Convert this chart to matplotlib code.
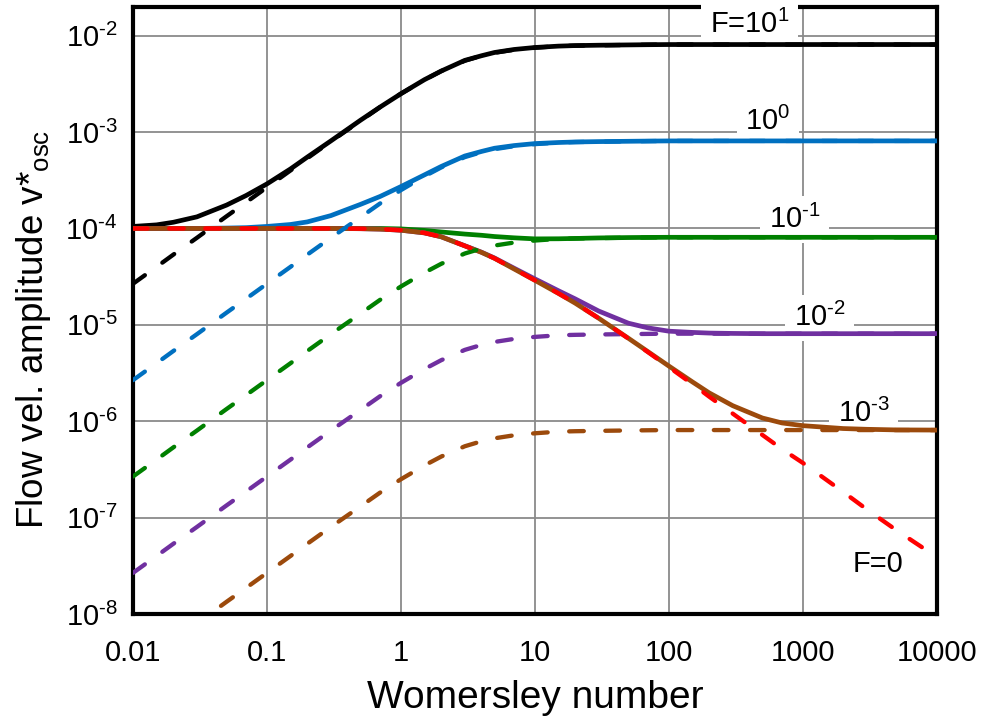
import matplotlib
matplotlib.use('Agg')
from matplotlib import pyplot as plt
from matplotlib.ticker import FuncFormatter

plt.rcParams['font.family'] = ['Liberation Sans', 'DejaVu Sans']
plt.rcParams['mathtext.fontset'] = 'custom'
plt.rcParams['mathtext.rm'] = 'Liberation Sans'
plt.rcParams['mathtext.it'] = 'Liberation Sans:italic'
plt.rcParams['axes.unicode_minus'] = False

# Womersley number samples
wo = [0.01, 0.015, 0.02, 0.03, 0.05, 0.07, 0.1, 0.15, 0.2, 0.3,
      0.5, 0.7, 1, 1.5, 2, 3, 4, 5, 7, 10,
      15, 20, 30, 50, 70, 100, 150, 200, 300, 500,
      700, 1000, 2000, 3000, 5000, 10000]

# F = 0 (red dashed)
v_f0 = [1e-4, 1e-4, 1e-4, 1e-4, 1e-4, 1e-4, 1e-4, 1e-4, 1e-4, 1e-4,
        9.95e-5, 9.85e-5, 9.6e-5, 9.0e-5, 8.2e-5, 6.6e-5, 5.65e-5, 4.9e-5, 3.8e-5, 2.9e-5,
        2.12e-5, 1.68e-5, 1.17e-5, 7.2e-6, 5.2e-6, 3.65e-6, 2.43e-6, 1.8e-6, 1.2e-6, 7.2e-7,
        5.14e-7, 3.7e-7, 1.85e-7, 1.22e-7, 7.4e-8, 3.9e-8]

# total amplitude (solid)
v_f1e1 = [1.05e-4, 1.09e-4, 1.16e-4, 1.32e-4, 1.75e-4, 2.2e-4, 2.9e-4, 4.15e-4, 5.5e-4, 8.1e-4,
          1.33e-3, 1.82e-3, 2.5e-3, 3.5e-3, 4.3e-3, 5.55e-3, 6.2e-3, 6.7e-3, 7.2e-3, 7.55e-3,
          7.8e-3, 7.9e-3, 7.97e-3, 8.03e-3, 8.07e-3, 8.1e-3, 8.1e-3, 8.1e-3, 8.1e-3, 8.1e-3,
          8.1e-3, 8.1e-3, 8.1e-3, 8.1e-3, 8.1e-3, 8.1e-3]
v_f1e0 = [1.0e-4, 1.0e-4, 1.0e-4, 1.0e-4, 1.01e-4, 1.02e-4, 1.05e-4, 1.1e-4, 1.17e-4, 1.36e-4,
          1.78e-4, 2.15e-4, 2.72e-4, 3.6e-4, 4.4e-4, 5.65e-4, 6.3e-4, 6.8e-4, 7.25e-4, 7.6e-4,
          7.8e-4, 7.9e-4, 7.97e-4, 8.03e-4, 8.07e-4, 8.1e-4, 8.1e-4, 8.1e-4, 8.1e-4, 8.1e-4,
          8.1e-4, 8.1e-4, 8.1e-4, 8.1e-4, 8.1e-4, 8.1e-4]
v_f1e_1 = [1e-4, 1e-4, 1e-4, 1e-4, 1e-4, 1e-4, 1e-4, 1e-4, 1e-4, 1e-4,
           1.0e-4, 1.0e-4, 9.9e-5, 9.55e-5, 9.2e-5, 8.75e-5, 8.5e-5, 8.25e-5, 8.0e-5, 7.8e-5,
           7.82e-5, 7.88e-5, 7.98e-5, 8.05e-5, 8.08e-5, 8.1e-5, 8.1e-5, 8.1e-5, 8.1e-5, 8.1e-5,
           8.1e-5, 8.1e-5, 8.1e-5, 8.1e-5, 8.1e-5, 8.1e-5]
v_f1e_2 = [1e-4, 1e-4, 1e-4, 1e-4, 1e-4, 1e-4, 1e-4, 1e-4, 1e-4, 1e-4,
           9.95e-5, 9.85e-5, 9.6e-5, 9.0e-5, 8.2e-5, 6.62e-5, 5.67e-5, 4.94e-5, 3.87e-5, 3.0e-5,
           2.26e-5, 1.86e-5, 1.39e-5, 1.04e-5, 9.3e-6, 8.6e-6, 8.35e-6, 8.22e-6, 8.15e-6, 8.1e-6,
           8.1e-6, 8.1e-6, 8.1e-6, 8.1e-6, 8.1e-6, 8.1e-6]
v_f1e_3 = [1e-4, 1e-4, 1e-4, 1e-4, 1e-4, 1e-4, 1e-4, 1e-4, 1e-4, 1e-4,
           9.95e-5, 9.85e-5, 9.6e-5, 9.0e-5, 8.2e-5, 6.6e-5, 5.65e-5, 4.9e-5, 3.8e-5, 2.9e-5,
           2.12e-5, 1.68e-5, 1.17e-5, 7.25e-6, 5.26e-6, 3.74e-6, 2.56e-6, 1.97e-6, 1.45e-6, 1.08e-6,
           9.6e-7, 9.0e-7, 8.4e-7, 8.25e-7, 8.13e-7, 8.1e-7]

# oscillatory part only (dashed)
d_f1e1 = [2.67e-5, 4.0e-5, 5.35e-5, 8.0e-5, 1.34e-4, 1.87e-4, 2.67e-4, 4.0e-4, 5.35e-4, 8.0e-4,
          1.31e-3, 1.82e-3, 2.5e-3, 3.48e-3, 4.3e-3, 5.5e-3, 6.2e-3, 6.65e-3, 7.15e-3, 7.5e-3,
          7.8e-3, 7.88e-3, 7.95e-3, 8.02e-3, 8.06e-3, 8.1e-3, 8.1e-3, 8.1e-3, 8.1e-3, 8.1e-3,
          8.1e-3, 8.1e-3, 8.1e-3, 8.1e-3, 8.1e-3, 8.1e-3]
d_f1e0 = [2.67e-6, 4.0e-6, 5.35e-6, 8.0e-6, 1.34e-5, 1.87e-5, 2.67e-5, 4.0e-5, 5.35e-5, 8.0e-5,
          1.31e-4, 1.82e-4, 2.5e-4, 3.48e-4, 4.3e-4, 5.5e-4, 6.2e-4, 6.65e-4, 7.15e-4, 7.5e-4,
          7.8e-4, 7.88e-4, 7.95e-4, 8.02e-4, 8.06e-4, 8.1e-4, 8.1e-4, 8.1e-4, 8.1e-4, 8.1e-4,
          8.1e-4, 8.1e-4, 8.1e-4, 8.1e-4, 8.1e-4, 8.1e-4]
d_f1e_1 = [2.67e-7, 4.0e-7, 5.35e-7, 8.0e-7, 1.34e-6, 1.87e-6, 2.67e-6, 4.0e-6, 5.35e-6, 8.0e-6,
           1.31e-5, 1.82e-5, 2.5e-5, 3.48e-5, 4.3e-5, 5.5e-5, 6.2e-5, 6.65e-5, 7.15e-5, 7.5e-5,
           7.8e-5, 7.88e-5, 7.95e-5, 8.02e-5, 8.06e-5, 8.1e-5, 8.1e-5, 8.1e-5, 8.1e-5, 8.1e-5,
           8.1e-5, 8.1e-5, 8.1e-5, 8.1e-5, 8.1e-5, 8.1e-5]
d_f1e_2 = [2.67e-8, 4.0e-8, 5.35e-8, 8.0e-8, 1.34e-7, 1.87e-7, 2.67e-7, 4.0e-7, 5.35e-7, 8.0e-7,
           1.31e-6, 1.82e-6, 2.5e-6, 3.48e-6, 4.3e-6, 5.5e-6, 6.2e-6, 6.65e-6, 7.15e-6, 7.5e-6,
           7.8e-6, 7.88e-6, 7.95e-6, 8.02e-6, 8.06e-6, 8.1e-6, 8.1e-6, 8.1e-6, 8.1e-6, 8.1e-6,
           8.1e-6, 8.1e-6, 8.1e-6, 8.1e-6, 8.1e-6, 8.1e-6]
d_f1e_3 = [2.67e-9, 4.0e-9, 5.35e-9, 8.0e-9, 1.34e-8, 1.87e-8, 2.67e-8, 4.0e-8, 5.35e-8, 8.0e-8,
           1.31e-7, 1.82e-7, 2.5e-7, 3.48e-7, 4.3e-7, 5.5e-7, 6.2e-7, 6.65e-7, 7.15e-7, 7.5e-7,
           7.8e-7, 7.88e-7, 7.95e-7, 8.02e-7, 8.06e-7, 8.1e-7, 8.1e-7, 8.1e-7, 8.1e-7, 8.1e-7,
           8.1e-7, 8.1e-7, 8.1e-7, 8.1e-7, 8.1e-7, 8.1e-7]

colors = ['#000000', '#0070C0', '#008000', '#7030A0', '#9C4A0C']
solid = [v_f1e1, v_f1e0, v_f1e_1, v_f1e_2, v_f1e_3]
dashed = [d_f1e1, d_f1e0, d_f1e_1, d_f1e_2, d_f1e_3]

x_ticks = [0.01, 0.1, 1, 10, 100, 1000, 10000]
x_labels = ['0.01', '0.1', '1', '10', '100', '1000', '10000']
y_ticks = [1e-8, 1e-7, 1e-6, 1e-5, 1e-4, 1e-3, 1e-2]

# curve labels: text, x, y
curve_labels = [('F=10$^{1}$', 400, 1.3e-2),
                ('10$^{0}$', 550, 1.28e-3),
                ('10$^{\\text{-}1}$', 870, 1.24e-4),
                ('10$^{\\text{-}2}$', 1340, 1.19e-5),
                ('10$^{\\text{-}3}$', 2850, 1.21e-6)]


def pow_label(v, pos):
    # 10 with a short hyphen in the exponent, like the original
    e = int(round(__import__('math').log10(v)))
    return '10$^{\\text{-}%d}$' % (-e) if e < 0 else '10$^{%d}$' % e


fig = plt.figure(figsize=(9.85, 7.21), dpi=100)
ax = fig.add_axes([0.135, 0.1484, 0.816, 0.8423])
ax.set_xscale('log')
ax.set_yscale('log')

for c, ys in zip(colors, solid):
    ax.plot(wo, ys, color=c, lw=3.4, solid_capstyle='butt', solid_joinstyle='round', zorder=3)
for c, ys in zip(colors, dashed):
    ax.plot(wo, ys, color=c, lw=3.1, dashes=(3.4, 5.0), dash_capstyle='round', zorder=4)
ax.plot(wo, v_f0, color='#FF0000', lw=3.1, dashes=(3.4, 5.0), dash_capstyle='round', zorder=5)

ax.set_xlim(0.01, 10000)
ax.set_ylim(1e-8, 2e-2)
ax.set_xticks(x_ticks, x_labels)
ax.set_yticks(y_ticks)
ax.yaxis.set_major_formatter(FuncFormatter(pow_label))
ax.minorticks_off()
ax.grid(True, color='#8a8a8a', lw=1.3)
ax.set_axisbelow(True)
ax.tick_params(length=0, labelsize=21)
ax.tick_params(axis='x', pad=18)
ax.tick_params(axis='y', pad=11)
for s in ax.spines.values():
    s.set_linewidth(3)

for txt, x, y in curve_labels:
    ax.text(x, y, txt, fontsize=21, ha='center', va='center', zorder=2.8,
            bbox=dict(facecolor='white', edgecolor='none', pad=6))
ax.text(3630, 3.3e-8, 'F=0', fontsize=21, ha='center', va='center', zorder=6,
        bbox=dict(facecolor='white', edgecolor='none', pad=1))

ax.set_xlabel('Womersley number', fontsize=28, va='top')
ax.xaxis.set_label_coords(0.5006, -0.109)
ax.set_ylabel('Flow vel. amplitude v*$_{\\mathrm{osc}}$', fontsize=26.5)
ax.yaxis.set_label_coords(-0.10, 0.468)

fig.savefig('out.png', dpi=100)
